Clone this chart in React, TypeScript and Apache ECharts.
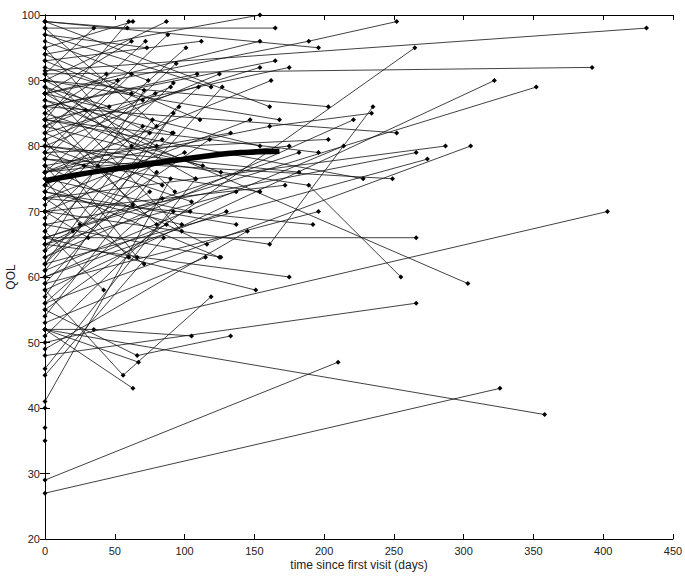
import React, { useEffect, useRef } from 'react';
import * as echarts from 'echarts';

// Each subject: visit times (days since first visit) and QOL scores
const subjectTimes: number[][] = [
  [0, 431], [0, 392], [0, 322], [0, 352], [0, 305], [0, 287], [0, 403], [0, 326], [0, 210], [0, 358],
  [0, 266], [0, 266], [0, 303], [0, 189, 255], [0, 161, 235], [0, 265], [0, 189, 252], [0, 161, 234],
  [0, 56, 119], [0, 63], [0, 66, 133], [0, 67], [0, 35, 105], [0, 90], [0, 108], [0, 85], [0, 145],
  [0], [0], [0],
  [0, 154], [0, 165], [0, 154], [0, 196], [0, 165], [0, 154], [0, 175], [0, 162], [0, 161], [0, 203],
  [0, 221], [0, 147], [0, 168], [0, 252], [0, 133], [0, 203], [0, 154], [0, 175], [0, 214], [0, 182],
  [0, 196], [0, 266], [0, 274], [0, 182], [0, 228], [0, 249], [0, 172], [0, 137], [0, 154], [0, 130],
  [0, 196], [0, 137], [0, 192], [0, 126], [0, 175], [0, 151],
  [0, 35], [0, 60], [0, 63], [0, 87], [0, 59], [0, 88], [0, 62], [0, 72], [0, 112], [0, 101],
  [0, 73], [0, 52], [0, 74], [0, 92], [0, 111], [0, 92], [0, 80], [0, 126], [0, 110], [0, 80],
  [0, 94], [0, 109], [0, 125], [0, 62], [0, 71], [0, 119], [0, 127], [0, 62], [0, 90], [0, 79],
  [0, 70], [0, 92], [0, 91], [0, 70], [0, 75], [0, 84], [0, 62], [0, 108], [0, 80], [0, 84],
  [0, 75], [0, 93], [0, 105], [0, 63], [0, 92], [0, 104], [0, 80], [0, 87], [0, 98], [0, 98],
  [0, 116], [0, 115], [0, 125], [0, 66], [0, 71], [0, 28], [0, 38], [0, 31], [0, 20], [0, 25],
  [0, 60], [0, 42], [0, 46], [0, 29], [0, 44],
  [0, 96], [0, 118], [0, 84], [0, 100], [0, 77], [0, 113],
];

const subjectQol: number[][] = [
  [91.5, 98], [91, 92], [58, 90], [66, 89], [56, 80], [72, 80], [50, 70], [27, 43], [29, 47], [52, 39],
  [48, 56], [66, 66], [87, 59], [80, 74, 60], [70, 65, 86], [55, 95], [88, 96, 99], [76, 83, 85],
  [58, 45, 57], [52, 43], [55, 48, 51], [52, 47], [52, 52, 51], [41, 75], [46, 75], [45, 66], [49, 67],
  [35], [37], [40],
  [94, 100], [98, 98], [88, 96], [99, 95], [86, 93], [82, 92], [84, 92], [76, 90], [99, 86], [90, 86],
  [63, 84], [72, 84], [90, 84], [86, 82], [77, 82], [79, 81], [88, 80], [76, 80], [61, 80], [66, 79],
  [84, 79], [68, 79], [62, 78], [80, 76], [84, 75], [78, 75], [70, 74], [65, 73], [78, 73], [60, 70],
  [59, 70], [73, 68], [72, 68], [68, 63], [65, 60], [66, 58],
  [91, 98], [84, 99], [95, 99], [90, 99], [99, 98], [79, 97], [88, 96], [82, 96], [93, 96], [76, 95],
  [97, 95], [83, 90], [96, 90], [71, 89.6], [94, 84], [62, 82], [89, 80], [85, 76], [67, 89], [98, 83],
  [74, 92.6], [86, 91], [80, 91], [78, 91], [64, 88.5], [97, 89], [59, 89], [92, 88], [81, 89], [73, 88],
  [93, 87], [57, 85], [87, 82], [69, 83], [90, 82], [76, 81], [95, 80], [88, 75], [54, 76], [82, 74],
  [63, 73], [91, 73], [79, 71.5], [86, 71], [51, 70], [75, 70], [84, 68], [60, 68], [73, 68], [89, 67],
  [77, 65], [53, 63], [74, 63], [81, 63], [72, 62], [74, 77], [80, 77], [70, 66], [65, 67], [75, 68],
  [77, 63], [67, 58], [89, 86], [83, 85.5], [85, 91],
  [61, 86], [64, 81], [56, 72], [70, 79], [62, 84], [83, 77],
];

// Average trajectory (thick curve)
const meanTimes = [0, 20, 40, 60, 80, 100, 120, 140, 168];
const meanQol = [74.7, 75.5, 76.2, 76.8, 77.4, 78.0, 78.6, 79.0, 79.2];

const FONT = 'Liberation Sans, Arial, Helvetica, sans-serif';

export default function App() {
  const ref = useRef<HTMLDivElement>(null);

  useEffect(() => {
    if (!ref.current) return;
    const chart = echarts.init(ref.current, null, { renderer: 'svg' });

    const series: any[] = subjectTimes.map((ts, i) => ({
      type: 'line',
      data: ts.map((t, j) => [t, subjectQol[i][j]]),
      symbol: 'diamond',
      symbolSize: 5,
      showSymbol: true,
      showAllSymbol: true,
      clip: false,
      silent: true,
      lineStyle: { color: '#111', width: 0.8 },
      itemStyle: { color: '#000' },
      z: 2,
    }));

    series.push({
      type: 'line',
      data: meanTimes.map((t, i) => [t, meanQol[i]]),
      symbol: 'none',
      smooth: 0.3,
      silent: true,
      lineStyle: { color: '#000', width: 5.5 },
      z: 3,
    });

    const axisCommon = {
      axisLine: { show: true, lineStyle: { color: '#000', width: 1 } },
      axisTick: { show: true, inside: true, length: 5, lineStyle: { color: '#000' } },
      splitLine: { show: false },
    };

    chart.setOption({
      animation: false,
      backgroundColor: '#fff',
      grid: { left: 45, right: 12, top: 15, bottom: 37, containLabel: false, outerBoundsMode: 'none' },
      xAxis: [
        {
          type: 'value',
          min: 0,
          max: 450,
          interval: 50,
          position: 'bottom',
          ...axisCommon,
          axisLabel: { color: '#222', fontSize: 11, fontFamily: FONT, margin: 6 },
          name: 'time since first visit (days)',
          nameLocation: 'middle',
          nameGap: 20,
          nameMoveOverlap: false,
          nameTextStyle: { color: '#222', fontSize: 12, fontFamily: FONT },
        },
        {
          type: 'value',
          min: 0,
          max: 450,
          interval: 50,
          position: 'top',
          ...axisCommon,
          axisLabel: { show: false },
        },
      ],
      yAxis: [
        {
          type: 'value',
          min: 20,
          max: 100,
          interval: 10,
          position: 'left',
          ...axisCommon,
          axisLabel: { color: '#222', fontSize: 11, fontFamily: FONT, margin: 5 },
          name: 'QOL',
          nameLocation: 'middle',
          nameGap: 28,
          nameMoveOverlap: false,
          nameTextStyle: { color: '#222', fontSize: 12, fontFamily: FONT },
        },
        {
          type: 'value',
          min: 20,
          max: 100,
          interval: 10,
          position: 'right',
          ...axisCommon,
          axisLabel: { show: false },
        },
      ],
      series,
    });

    return () => chart.dispose();
  }, []);

  return (
    <div
      ref={ref}
      style={{ position: 'fixed', left: 0, top: 0, width: 685, height: 576, background: '#fff' }}
    />
  );
}
